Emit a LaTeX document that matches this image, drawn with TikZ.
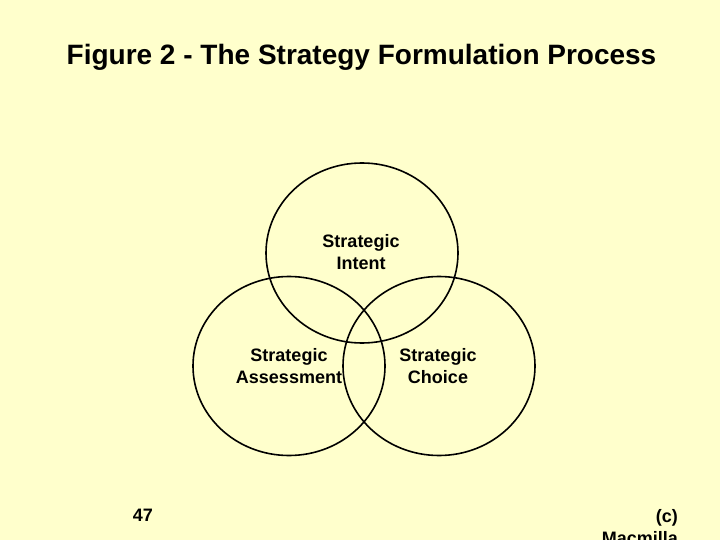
\documentclass[tikz,border=0pt]{standalone}
\usepackage{fontspec}
\setmainfont{Liberation Sans}
\definecolor{bg}{HTML}{FFFFCC}
\begin{document}
\begin{tikzpicture}[x=1pt,y=-1pt,
  ring/.style={draw=black,line width=1.6pt},
  lbl/.style={font=\fontsize{18}{22}\selectfont\bfseries,align=center,inner sep=0pt}]
\useasboundingbox[fill=bg] (0,0) rectangle (720,540);
\node[font=\fontsize{28}{32}\selectfont\bfseries,inner sep=0pt] (title) at (361.5,57.5) {Figure 2 - The Strategy Formulation Process};
\draw[ring] (362,253) ellipse [x radius=96, y radius=90];
\draw[ring] (289,366) ellipse [x radius=96, y radius=89.5];
\draw[ring] (439,366) ellipse [x radius=96, y radius=89.5];
\node[lbl] (intent) at (361,252) {Strategic\\Intent};
\node[lbl] (assess) at (289,366) {Strategic\\Assessment};
\node[lbl] (choice) at (438,366) {Strategic\\Choice};
\node[lbl] (num) at (143,515) {47};
\node[lbl,align=right,anchor=north east] (copy) at (678,509.5) {(c)\\Macmilla};
\end{tikzpicture}
\end{document}
